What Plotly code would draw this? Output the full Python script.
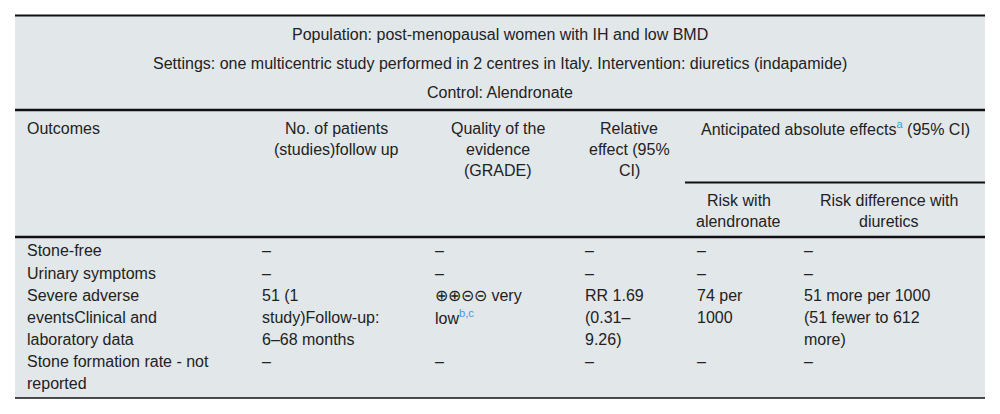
import plotly.graph_objects as go

# --- table content -------------------------------------------------------
title_lines = [
    "Population: post-menopausal women with IH and low BMD",
    "Settings: one multicentric study performed in 2 centres in Italy. Intervention: diuretics (indapamide)",
    "Control: Alendronate",
]

SUP = "<sup><span style='color:#3a9fdc'>%s</span></sup>"

header_cells = [
    ["Outcomes"],
    ["No. of patients", "(studies)follow up"],
    ["Quality of the", "evidence", "(GRADE)"],
    ["Relative", "effect (95%", "CI)"],
]
group_header = "Anticipated absolute effects" + SUP % "a" + " (95% CI)"
subheader_cells = [
    ["Risk with", "alendronate"],
    ["Risk difference with", "diuretics"],
]

outcomes = [["Stone-free"], ["Urinary symptoms"],
            ["Severe adverse", "eventsClinical and", "laboratory data"],
            ["Stone formation rate - not", "reported"]]
patients = [["–"], ["–"], ["51 (1", "study)Follow-up:", "6–68 months"], ["–"]]
quality = [["–"], ["–"], ["⊕⊕⊝⊝ very", "low" + SUP % "b,c"], ["–"]]
relative = [["–"], ["–"], ["RR 1.69", "(0.31–", "9.26)"], ["–"]]
risk_control = [["–"], ["–"], ["74 per", "1000"], ["–"]]
risk_diff = [["–"], ["–"], ["51 more per 1000", "(51 fewer to 612", "more)"], ["–"]]

# --- layout constants (pixels of the 1000x414 page) ----------------------
W, H = 1000, 414
BODY = 8  # default page margin around the plot div
col_edges = [15, 250, 423, 573, 685, 792, 985]
pad = 10
bg = "#e2e7ea"
ink = "#222222"
font = dict(family="Liberation Sans, Arial, sans-serif", size=16, color=ink)

fig = go.Figure()
annotations = []
shapes = []


def add_text(x, y, text, anchor="left"):
    annotations.append(dict(x=x, y=y, xref="x", yref="y", text=text,
                            showarrow=False, xanchor=anchor, yanchor="middle",
                            font=font))


def add_line(x0, x1, y, w):
    shapes.append(dict(type="line", xref="x", yref="y", x0=x0, x1=x1,
                       y0=y, y1=y, line=dict(color="#111111", width=w)))


shapes.append(dict(type="rect", xref="x", yref="y", x0=col_edges[0], x1=col_edges[-1],
                   y0=15, y1=398, fillcolor=bg, line=dict(width=0), layer="below"))

# title block
for i, t in enumerate(title_lines):
    add_text((col_edges[0] + col_edges[-1]) / 2, 34 + i * 29, t, "center")

# header
for c, lines in enumerate(header_cells):
    for i, t in enumerate(lines):
        if c == 0:
            add_text(col_edges[0] + pad, 128 + i * 21, t)
        else:
            add_text((col_edges[c] + col_edges[c + 1]) / 2, 128 + i * 21, t, "center")
add_text((col_edges[4] + col_edges[6]) / 2, 128, group_header, "center")
for k, lines in enumerate(subheader_cells):
    c = 4 + k
    for i, t in enumerate(lines):
        add_text((col_edges[c] + col_edges[c + 1]) / 2, 200 + i * 21, t, "center")

# body
columns = [outcomes, patients, quality, relative, risk_control, risk_diff]
row_tops = [250, 273, 295, 361]
for c, col in enumerate(columns):
    for r, lines in enumerate(col):
        for i, t in enumerate(lines):
            add_text(col_edges[c] + pad, row_tops[r] + i * 22, t)

# rules
add_line(col_edges[0], col_edges[-1], 15.5, 2)
add_line(col_edges[0], col_edges[-1], 110, 2.5)
add_line(col_edges[4], col_edges[-1], 182.5, 2)
add_line(col_edges[0], col_edges[-1], 237, 2.5)
add_line(col_edges[0], col_edges[-1], 398, 1.5)

# figure sized to fit inside the page margin, axes map straight to page pixels
fig.update_layout(
    width=W - 2 * BODY, height=H - 2 * BODY,
    margin=dict(l=0, r=0, t=0, b=0),
    paper_bgcolor="white", plot_bgcolor="white",
    xaxis=dict(range=[BODY, W - BODY], visible=False, fixedrange=True),
    yaxis=dict(range=[H - BODY, BODY], visible=False, fixedrange=True),
    annotations=annotations, shapes=shapes,
    showlegend=False,
)
fig.write_html("out.html", config={"displayModeBar": False})
